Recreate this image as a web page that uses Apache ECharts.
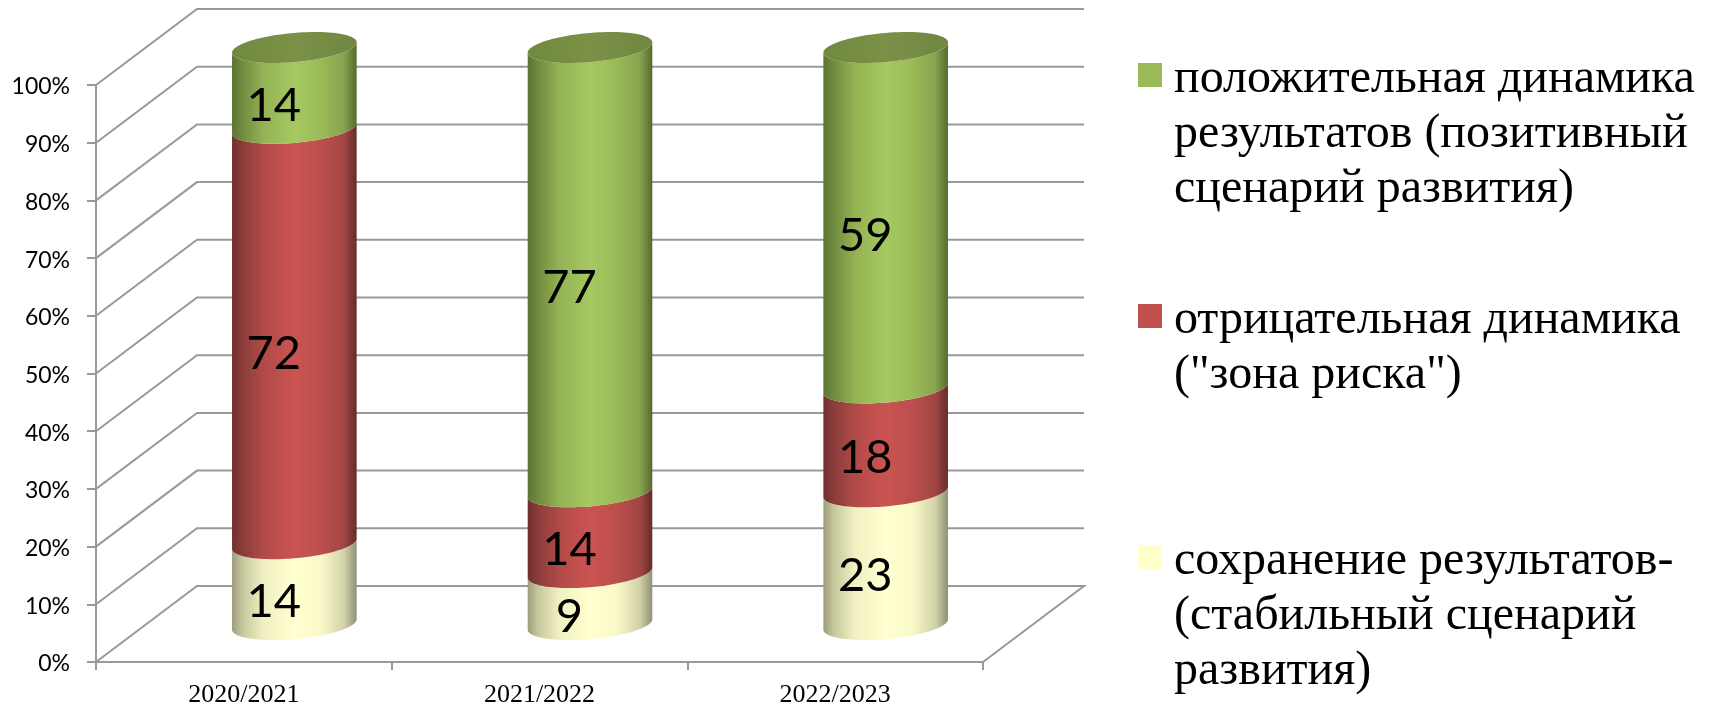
<!DOCTYPE html>
<html>
<head>
<meta charset="utf-8">
<style>html,body{margin:0;padding:0;background:#fff}#c{width:1709px;height:705px}</style>
<script src="https://cdn.jsdelivr.net/npm/echarts@6/dist/echarts.min.js"></script>
</head>
<body>
<div id="c"></div>
<script>
const categories = ['2020/2021', '2021/2022', '2022/2023'];
const stableValues = [14, 9, 23];
const negativeValues = [72, 14, 18];
const positiveValues = [14, 77, 59];
const yTicks = [0, 10, 20, 30, 40, 50, 60, 70, 80, 90, 100];
const stableName = 'сохранение результатов-(стабильный сценарий развития)';
const negativeName = 'отрицательная динамика ("зона риска")';
const positiveName = 'положительная динамика результатов (позитивный сценарий развития)';
const positiveLines = ['положительная динамика', 'результатов (позитивный', 'сценарий развития)'];
const negativeLines = ['отрицательная динамика', '("зона риска")'];
const stableLines = ['сохранение результатов-', '(стабильный сценарий', 'развития)'];

const GRID_COLOR = '#999999';
const WALL_DX = 101, WALL_DY = -76;
const CYL_DX = 50.5, CYL_DY = -37.5;
const CYL_RX_RATIO = 0.2107, CYL_RY = 14.6, CYL_SKEW = 5.2;
const LABEL_DX = 30, LABEL_DY = -19.5;
const ARC_STEPS = 48;

function sideGradient(stops) {
  return new echarts.graphic.LinearGradient(0, 0, 1, 0,
    stops.map(s => ({ offset: s[0], color: s[1] })));
}
const sideStops = {
  green: [[0, '#5b7333'], [0.08, '#708a3f'], [0.25, '#94b254'], [0.5, '#a6c962'], [0.72, '#9aba58'], [0.9, '#88a34e'], [1, '#56692d']],
  red: [[0, '#6e302e'], [0.08, '#8a3c3a'], [0.25, '#b04a47'], [0.5, '#cb5452'], [0.72, '#ba4f4c'], [0.9, '#a14644'], [1, '#642b2a']],
  cream: [[0, '#9c9d7c'], [0.08, '#c5c69c'], [0.25, '#f0f0c2'], [0.5, '#ffffcf'], [0.72, '#f8f8c8'], [0.9, '#d2d2a8'], [1, '#8f9074']]
};

function frontArc(cx, cy, a, reverse) {
  const pts = [];
  for (let i = 0; i <= ARC_STEPS; i++) {
    const t = Math.PI * (1 - i / ARC_STEPS);
    pts.push([cx + a * Math.cos(t), cy - CYL_SKEW * Math.cos(t) + CYL_RY * Math.sin(t)]);
  }
  return reverse ? pts.reverse() : pts;
}
function fullEllipse(cx, cy, a) {
  const pts = [];
  for (let i = 0; i < ARC_STEPS * 2; i++) {
    const t = Math.PI * i / ARC_STEPS;
    pts.push([cx + a * Math.cos(t), cy - CYL_SKEW * Math.cos(t) + CYL_RY * Math.sin(t)]);
  }
  return pts;
}

function cylinderRender(key) {
  return function (params, api) {
    const idx = api.value(0), start = api.value(1), end = api.value(2), val = api.value(3);
    const p0 = api.coord([idx, start]);
    const p1 = api.coord([idx, end]);
    const band = api.size([1, 0])[0];
    const a = band * CYL_RX_RATIO;
    const cx = p0[0] + CYL_DX;
    const y0 = p0[1] + CYL_DY, y1 = p1[1] + CYL_DY;
    const children = [{
      type: 'polygon',
      shape: { points: frontArc(cx, y0, a, false).concat(frontArc(cx, y1, a, true)) },
      style: { fill: sideGradient(sideStops[key]) }
    }];
    if (end >= 100) {
      children.push({
        type: 'polygon',
        shape: { points: fullEllipse(cx, y1, a) },
        style: { fill: new echarts.graphic.LinearGradient(0, 0, 1, 0, [
          { offset: 0, color: '#71883f' }, { offset: 0.5, color: '#7b9148' }, { offset: 1, color: '#718740' }
        ]) }
      });
    }
    const mid = api.coord([idx, (start + end) / 2]);
    children.push({
      type: 'text',
      z2: 10,
      style: {
        text: String(val),
        x: mid[0] + LABEL_DX,
        y: mid[1] + LABEL_DY,
        fill: '#000',
        font: '47px Lato',
        align: 'center',
        verticalAlign: 'middle'
      }
    });
    return { type: 'group', children: children };
  };
}

function wallRender(params, api) {
  const v = api.value(1);
  const y = api.coord([0, v])[1];
  const g = params.coordSys;
  const left = g.x, right = g.x + g.width;
  const style = { stroke: GRID_COLOR, lineWidth: 2, fill: 'none' };
  const pts = [[left, y], [left + WALL_DX, y + WALL_DY], [right + WALL_DX, y + WALL_DY]];
  if (v === 0) pts.push([right, y]);
  return { type: 'polyline', shape: { points: pts }, style: style, silent: true };
}

function stacked(values, bases) {
  return values.map((v, i) => [i, bases[i], bases[i] + v, v]);
}
const base0 = categories.map(() => 0);
const base1 = stableValues.map((v, i) => v);
const base2 = stableValues.map((v, i) => v + negativeValues[i]);

function legendItem(name, lines, color, top) {
  const h = lines.length * 55;
  return {
    show: true, left: 1138, top: top, padding: 0, orient: 'vertical',
    itemWidth: 24, itemHeight: h, itemGap: 0, selectedMode: false,
    symbolKeepAspect: true,
    data: [{
      name: name,
      icon: 'path://M0 11H24V35H0Z M0 0 L0 0 M24 ' + h + ' L24 ' + h,
      itemStyle: { color: color, borderWidth: 0 }
    }],
    textStyle: { fontFamily: 'Liberation Serif', fontSize: 48, lineHeight: 55, color: '#000', padding: [0, 0, 0, 7] },
    formatter: () => lines.join('\n')
  };
}

const chart = echarts.init(document.getElementById('c'), null, { renderer: 'canvas' });
chart.setOption({
  animation: false,
  backgroundColor: '#ffffff',
  grid: { left: 96, right: 726, top: 85, bottom: 43, containLabel: false, outerBoundsMode: 'none' },
  legend: [
    legendItem(positiveName, positiveLines, '#9BBB59', 52),
    legendItem(negativeName, negativeLines, '#C0504D', 293),
    legendItem(stableName, stableLines, '#FFFFCC', 534)
  ],
  xAxis: {
    type: 'category',
    data: categories,
    boundaryGap: true,
    axisLine: { show: true, lineStyle: { color: GRID_COLOR, width: 2 } },
    axisTick: { show: true, length: 8, alignWithLabel: false, lineStyle: { color: GRID_COLOR, width: 2 } },
    axisLabel: { color: '#000', fontFamily: 'Liberation Serif', fontSize: 26, margin: 20 },
    splitLine: { show: false }
  },
  yAxis: {
    type: 'value',
    min: 0, max: 100, interval: 10,
    axisLine: { show: true, lineStyle: { color: GRID_COLOR, width: 2 } },
    axisTick: { show: true, length: 9, lineStyle: { color: GRID_COLOR, width: 2 } },
    axisLabel: {
      margin: 26,
      formatter: v => '{a|' + v + '%}',
      rich: { a: { color: '#000', fontFamily: 'Lato', fontSize: 23, padding: [4, 0, 0, 0] } }
    },
    splitLine: { show: false }
  },
  series: [
    {
      type: 'custom', name: 'wall', coordinateSystem: 'cartesian2d', z: 1, clip: false, silent: true,
      renderItem: wallRender,
      encode: { x: 0, y: 1 },
      data: yTicks.map(v => [0, v])
    },
    {
      type: 'custom', name: stableName, coordinateSystem: 'cartesian2d', z: 3, clip: false,
      itemStyle: { color: '#FFFFCC' },
      renderItem: cylinderRender('cream'),
      encode: { x: 0, y: [1, 2] },
      data: stacked(stableValues, base0)
    },
    {
      type: 'custom', name: negativeName, coordinateSystem: 'cartesian2d', z: 4, clip: false,
      itemStyle: { color: '#C0504D' },
      renderItem: cylinderRender('red'),
      encode: { x: 0, y: [1, 2] },
      data: stacked(negativeValues, base1)
    },
    {
      type: 'custom', name: positiveName, coordinateSystem: 'cartesian2d', z: 5, clip: false,
      itemStyle: { color: '#9BBB59' },
      renderItem: cylinderRender('green'),
      encode: { x: 0, y: [1, 2] },
      data: stacked(positiveValues, base2)
    }
  ]
});
</script>
</body>
</html>
